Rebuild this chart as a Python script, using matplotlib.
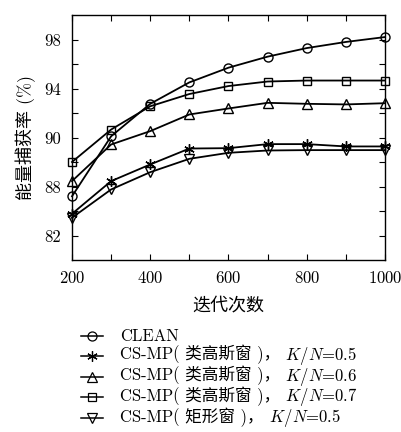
import matplotlib
matplotlib.use("Agg")
import matplotlib.pyplot as plt
from matplotlib.ticker import MultipleLocator, FixedLocator
from matplotlib.offsetbox import DrawingArea, TextArea, HPacker, VPacker, AnchoredOffsetbox
from matplotlib.lines import Line2D

FAM = ['cmr10', 'Noto Sans CJK SC', 'DejaVu Sans']
plt.rcParams['font.family'] = FAM
plt.rcParams['mathtext.fontset'] = 'cm'
plt.rcParams['axes.unicode_minus'] = False
plt.rcParams['axes.formatter.use_mathtext'] = True

iterations = [200, 300, 400, 500, 600, 700, 800, 900, 1000]
clean = [85.2, 90.1, 92.75, 94.5, 95.7, 96.6, 97.3, 97.8, 98.2]
gauss_05 = [83.77, 86.44, 87.8, 89.1, 89.13, 89.46, 89.46, 89.27, 89.27]
gauss_06 = [86.44, 89.43, 90.52, 91.88, 92.37, 92.83, 92.75, 92.7, 92.8]
gauss_07 = [88.0, 90.65, 92.55, 93.55, 94.2, 94.57, 94.65, 94.65, 94.65]
rect_05 = [83.45, 85.76, 87.17, 88.26, 88.75, 88.94, 88.97, 88.97, 88.97]

label_main = ['CLEAN',
              'CS-MP( 类高斯窗 )，',
              'CS-MP( 类高斯窗 )，',
              'CS-MP( 类高斯窗 )，',
              'CS-MP( 矩形窗 )，']
label_ratio = ['', '$K/N$=0.5', '$K/N$=0.6', '$K/N$=0.7', '$K/N$=0.5']
y_tick_values = [82, 86, 90, 94, 98]
y_tick_labels = ['82', '88', '90', '94', '98']
x_label = '迭代次数'
y_label = '能量捕获率 (%)'

fig = plt.figure(figsize=(4.02, 4.32), dpi=100)
ax = fig.add_axes([72/402, 1-260/432, (385-72)/402, (260-15)/432])

styles = [
    dict(marker='o', ms=6.5),
    dict(marker=(6, 2, 0), ms=7.5),
    dict(marker='^', ms=7.5),
    dict(marker='s', ms=6),
    dict(marker='v', ms=7.5),
]
data = [clean, gauss_05, gauss_06, gauss_07, rect_05]
for ys, st in zip(data, styles):
    ax.plot(iterations, ys, color='black', lw=1.3, mec='black', mew=1.0,
            mfc='none', clip_on=False, **st)

ax.set_xlim(200, 1000)
ax.set_ylim(80, 100)
ax.xaxis.set_major_locator(MultipleLocator(200))
ax.xaxis.set_minor_locator(MultipleLocator(100))
ax.yaxis.set_major_locator(FixedLocator(y_tick_values))
ax.set_yticklabels(y_tick_labels)
ax.yaxis.set_minor_locator(FixedLocator([84, 88, 92, 96]))
ax.tick_params(which='both', direction='in', top=True, right=True, labelsize=12)
ax.tick_params(which='both', length=4, width=0.8)
ax.tick_params(axis='x', pad=7)
ax.tick_params(axis='y', pad=8)
for s in ax.spines.values():
    s.set_linewidth(1.0)

ax.set_xlabel(x_label, fontsize=13, labelpad=8)
ax.set_ylabel(y_label, fontsize=13, labelpad=6)

# legend built from offset boxes so that CJK text and italic K/N can mix
ROW_H = 13.5
rows = []
for st, main, ratio in zip(styles, label_main, label_ratio):
    da = DrawingArea(16, ROW_H, 0, 0)
    da.add_artist(Line2D([0, 16], [ROW_H/2, ROW_H/2], color='black', lw=1.1))
    da.add_artist(Line2D([8], [ROW_H/2], color='black', lw=0, mec='black',
                         mfc='none', mew=0.9, **st))
    texts = [TextArea(main, textprops=dict(family=FAM, size=12))]
    if ratio:
        texts.append(TextArea(' ' + ratio, textprops=dict(size=12)))
    txt = HPacker(children=texts, sep=0, pad=0, align='baseline')
    rows.append(HPacker(children=[da, txt], sep=12, pad=0, align='center'))
box = VPacker(children=rows, sep=-0.8, pad=0, align='left')
anch = AnchoredOffsetbox(loc='upper left', child=box, pad=0, borderpad=0,
                         frameon=False, bbox_to_anchor=(81/402, 1-327/432),
                         bbox_transform=fig.transFigure)
fig.add_artist(anch)

fig.savefig('out.png', dpi=100)
